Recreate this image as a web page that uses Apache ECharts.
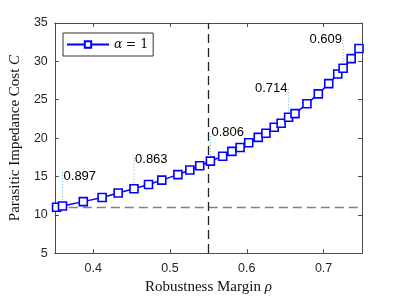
<!DOCTYPE html>
<html><head><meta charset="utf-8">
<script src="https://cdn.jsdelivr.net/npm/echarts@6/dist/echarts.min.js"></script>
<style>html,body{margin:0;padding:0;background:#fff}#c{width:400px;height:300px}</style>
</head><body><div id="c"></div>
<script>
// Data
const rho = [0.3523,0.3600,0.3871,0.4116,0.4325,0.4531,0.4720,0.4893,0.5103,0.5258,0.5387,0.5526,0.5686,0.5806,0.5913,0.6025,0.6149,0.6249,0.6357,0.6447,0.6544,0.6628,0.6783,0.6931,0.7067,0.7184,0.7254,0.7359,0.7461];
const cost = [10.97,11.14,11.71,12.25,12.84,13.39,13.94,14.51,15.23,15.83,16.38,16.99,17.62,18.26,18.77,19.39,20.09,20.63,21.40,21.93,22.71,23.18,24.47,25.76,27.09,28.36,29.11,30.36,31.67];
const annIndex = [1, 5, 11, 20, 26];
const annText = ['0.897','0.863','0.806','0.714','0.609'];
const annTopY = [15.7, 17.8, 20.3, 26.5, 33.1];
const annTextY = [14.95, 17.24, 20.76, 26.5, 32.9];
const annSide = ['right','right','right','left','left'];
const xTicks = [0.4, 0.5, 0.6, 0.7];
const hLineY = 11;
const vLineX = 0.55;
const legendName = 'α = 1';

const axisColor = '#4d4d4d';
const series = [];
series.push({
  name: legendName, type: 'line',
  data: rho.map((x,i)=>[x,cost[i]]),
  symbol: 'rect', symbolSize: 8,
  lineStyle: {color:'#0000ff', width:1.5},
  itemStyle: {color:'#ffffff', borderColor:'#0000ff', borderWidth:1.6},
  z: 5,
  markLine: {
    silent: true, symbol: 'none', label:{show:false},
    data: [
      {yAxis: hLineY, lineStyle:{color:'#808080', type:[9,5], width:1.3}},
      {xAxis: vLineX, lineStyle:{color:'#222', type:[9,5], width:1.3}}
    ]
  }
});
annIndex.forEach((idx,k)=>{
  series.push({
    type:'line', data:[[rho[idx],cost[idx]],[rho[idx],annTopY[k]]],
    symbol:'none', lineStyle:{color:'#4dbeee', type:[1,2], width:1}, z:3, silent:true
  });
  series.push({
    type:'scatter', data:[[rho[idx],annTextY[k]]], symbolSize:0.1, silent:true,
    itemStyle:{color:'rgba(0,0,0,0)'},
    label:{show:true, formatter:annText[k], position: annSide[k]==='right'?'right':'left', distance: 1,
      fontFamily:'Liberation Sans, Arial, sans-serif', fontSize:13, color:'#000', opacity:1}
  });
});

const chart = echarts.init(document.getElementById('c'));
chart.setOption({
  animation:false,
  grid:{left:52, right:38, top:23, bottom:41},
  legend:{
    data:[legendName], left:63, top:33, orient:'vertical',
    itemWidth:42, itemHeight:8, itemGap:0,
    padding:[5,5,5,3], borderColor:'#333', borderWidth:1, backgroundColor:'#fff',
    formatter: ()=> '{a|α} {b|= 1}',
    textStyle:{ rich:{ a:{fontFamily:'DejaVu Serif, Liberation Serif, serif', fontStyle:'italic', fontSize:12.5, color:'#111'},
                       b:{fontFamily:'DejaVu Serif, Liberation Serif, serif', fontSize:12.5, color:'#111'} } }
  },
  xAxis:[{
    type:'value', min:0.35, max:0.75,
    axisLine:{show:true, lineStyle:{color:axisColor, width:1}},
    axisTick:{show:true, inside:true, length:4, customValues:xTicks, lineStyle:{color:axisColor}},
    axisLabel:{customValues:xTicks, margin:9, fontFamily:'Liberation Sans, Arial, sans-serif', fontSize:12.5, color:'#262626', formatter:v=>String(+v.toFixed(2))},
    splitLine:{show:false},
    name:'Robustness Margin {i|ρ}', nameLocation:'middle', nameGap:25,
    nameTextStyle:{fontFamily:'Liberation Serif, Times New Roman, serif', fontSize:15, color:'#111',
      rich:{i:{fontFamily:'Liberation Serif, serif', fontStyle:'italic', fontSize:15, color:'#111'}}}
  },{
    type:'value', position:'top', min:0.35, max:0.75,
    axisLine:{show:true, lineStyle:{color:axisColor, width:1}},
    axisTick:{show:true, inside:true, length:4, customValues:xTicks, lineStyle:{color:axisColor}},
    axisLabel:{show:false}, splitLine:{show:false}
  }],
  yAxis:[{
    type:'value', min:5, max:35, interval:5,
    axisLine:{show:true, lineStyle:{color:axisColor, width:1}},
    axisTick:{show:true, inside:true, length:4, lineStyle:{color:axisColor}},
    axisLabel:{margin:7, fontFamily:'Liberation Sans, Arial, sans-serif', fontSize:12.5, color:'#262626'},
    splitLine:{show:false},
    name:'Parasitic Impedance Cost {i|C}', nameLocation:'middle', nameGap:24,
    nameTextStyle:{fontFamily:'Liberation Serif, Times New Roman, serif', fontSize:15, color:'#111',
      rich:{i:{fontFamily:'Liberation Serif, serif', fontStyle:'italic', fontSize:15, color:'#111'}}}
  },{
    type:'value', position:'right', min:5, max:35, interval:5,
    axisLine:{show:true, lineStyle:{color:axisColor, width:1}},
    axisTick:{show:true, inside:true, length:4, lineStyle:{color:axisColor}},
    axisLabel:{show:false}, splitLine:{show:false}
  }],
  series: series
});
</script></body></html>
